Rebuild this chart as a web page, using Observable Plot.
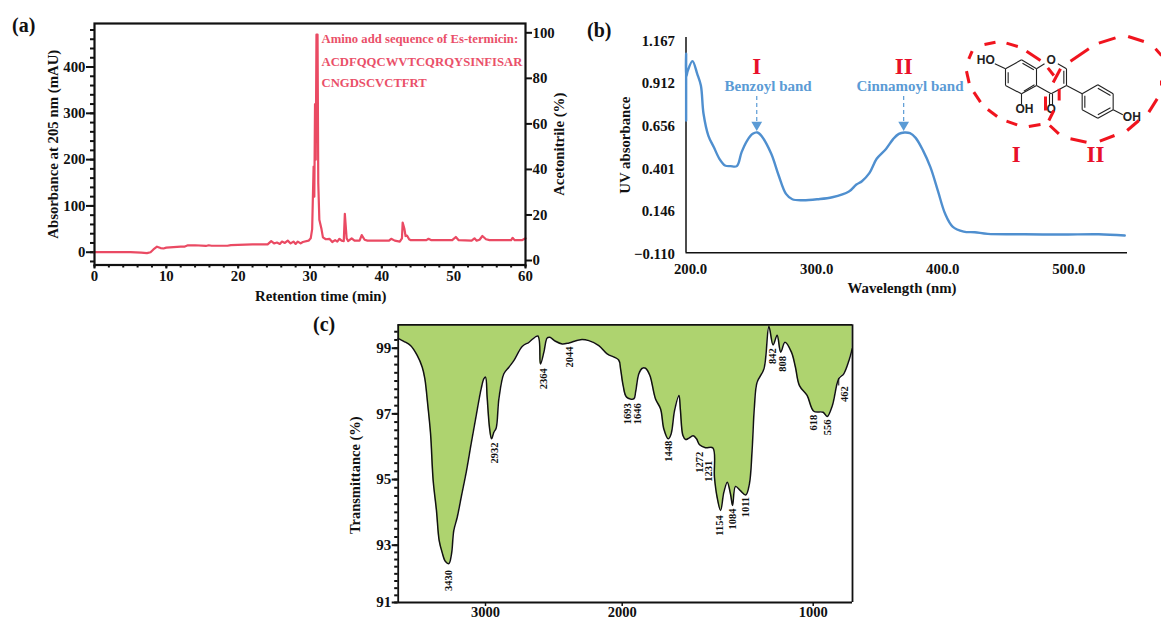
<!DOCTYPE html>
<html><head><meta charset="utf-8">
<script src="https://cdn.jsdelivr.net/npm/d3@7"></script>
<script src="https://cdn.jsdelivr.net/npm/@observablehq/plot@0.6"></script>
<style>
html,body{margin:0;padding:0;background:#fff}
#page{position:relative;width:1161px;height:619px;overflow:hidden;font-family:"Liberation Serif",serif;font-weight:bold}
.panel{position:absolute}
.panel svg{display:block;overflow:visible}
.tag{position:absolute;font-size:20px;color:#111;line-height:1}
</style></head><body>
<div id="page"></div>
<script>
// Panel (a): HPLC chromatogram [retention time (min), absorbance (mAU)]
const hplc=[[0,0],[5,0],[6.5,-1],[7.3,-2],[7.8,0],[8.2,6],[8.7,12],[9.2,9],[9.6,8],[10,10],[11,11],[12,12],[12.5,12],[13,15],[14,15],[15.5,13.5],[15.9,15],[16.3,14],[18.5,14],[19,15.5],[21,16.5],[22,17],[24.1,17],[24.6,24],[25,19],[25.4,21],[25.8,18],[26.1,23],[26.5,20],[26.9,25],[27.3,19],[27.7,23],[28,18],[28.3,23],[28.7,19],[29,22],[29.8,25],[30.1,30],[30.3,50],[30.5,185],[30.6,120],[30.7,320],[30.8,200],[30.9,470],[31.05,470],[31.15,150],[31.3,70],[31.6,50],[31.8,32],[32.2,28],[32.7,29],[33.1,22],[33.5,26],[33.8,23],[34.1,29],[34.4,25],[34.7,24],[34.85,83],[35.1,30],[35.3,24],[35.8,30],[36.2,25],[36.9,25],[37.2,37],[37.6,27],[38,25],[41,25],[41.3,29],[41.8,25],[42.5,23],[42.8,30],[42.9,64],[43.15,50],[43.3,35],[43.5,36],[43.8,28],[44,26],[46.2,26],[46.5,29],[46.9,26],[49.8,26],[50.3,33],[50.7,26],[52.5,25],[52.9,30],[53.2,25],[53.6,27],[54,35],[54.5,28],[55,26],[58,26],[58.2,31],[58.5,26],[59.5,26],[60,30]];
const hplcXTicks=[0,10,20,30,40,50,60];
const hplcYTicks=[0,100,200,300,400];
const acnTicks=[0,20,40,60,80,100];
const sequenceText=["Amino add sequence of Es-termicin:","ACDFQQCWVTCQRQYSINFISAR","CNGDSCVCTFRT"];
const sequenceY=[461,412,366];
// Panel (b): UV spectrum [wavelength (nm), absorbance]
const uv=[[196.5,0.691],[196.5,1.09],[196.5,0.95],[197.9,0.99],[201.5,1.046],[205.3,0.97],[208.2,0.9],[210.3,0.731],[214.1,0.601],[218.5,0.531],[222.9,0.462],[227.3,0.422],[231.7,0.418],[236.7,0.418],[240.5,0.502],[244.9,0.571],[249.3,0.611],[253.1,0.619],[256.6,0.595],[264,0.492],[269.9,0.362],[275.7,0.252],[280.7,0.22],[288.9,0.214],[300.7,0.22],[312.4,0.232],[325.6,0.266],[331.5,0.308],[335.9,0.328],[341.8,0.376],[347.6,0.462],[355,0.521],[360.8,0.581],[365.2,0.611],[369.6,0.619],[374,0.615],[378.5,0.587],[384.3,0.512],[390.2,0.412],[396.1,0.272],[401.9,0.133],[407.8,0.057],[416.6,0.027],[425.4,0.023],[435.7,0.013],[465,0.011],[494.4,0.009],[523.7,0.011],[544.3,0.003]];
const uvXTicks=[200,300,400,500];
const uvYTicks=[-0.11,0.146,0.401,0.656,0.912,1.167];
const bandNames=["Benzoyl band","Cinnamoyl band"];
const bandRoman=["I","II"];
const bandPeak=[252.5,369];
const bandTextX=[261.5,374];
// Panel (c): FTIR spectrum [wavenumber axis position, transmittance]
const ftir=[[3639,99.3],[3598,99.21],[3549,99.08],[3500,98.78],[3463,98.42],[3444,98.07],[3422,97.25],[3402,96.39],[3383,94.97],[3359,94.06],[3339,93.14],[3317,92.74],[3293,92.43],[3268,92.36],[3249,92.69],[3232,93.45],[3207,93.85],[3178,94.46],[3139,95.27],[3105,96.09],[3066,97],[3032,97.76],[3012,98.07],[3000,98.12],[2988,97.51],[2971,96.59],[2956,96.24],[2939,96.44],[2922,96.57],[2902,97.46],[2866,98.22],[2829,98.42],[2793,98.62],[2732,99.05],[2683,99.18],[2617,99.37],[2598,98.52],[2573,98.88],[2549,99.31],[2529,99.33],[2488,99.21],[2439,99.13],[2390,99.16],[2305,99.26],[2244,99.23],[2171,99.08],[2110,98.83],[2026,98.64],[2012,98.37],[1995,97.86],[1977,97.51],[1939,97.46],[1930,97.66],[1913,98.22],[1895,98.39],[1878,98.39],[1855,98.17],[1826,97.46],[1799,97.15],[1782,96.54],[1759,96.24],[1744,96.39],[1726,97.1],[1703,97.56],[1695,97.1],[1682,96.34],[1668,96.22],[1651,96.26],[1628,96.33],[1611,96.24],[1595,96.06],[1564,95.97],[1525,95.96],[1517,95.07],[1503,94.46],[1485,94.06],[1468,94.61],[1450,94.92],[1433,94.56],[1422,94.21],[1407,94.79],[1381,94.66],[1353,94.53],[1334,94.87],[1320,95.88],[1308,97.2],[1294,97.96],[1258,98.37],[1232,99.66],[1210,99.1],[1189,99.39],[1170,98.88],[1148,99.18],[1114,98.88],[1093,98.42],[1072,97.86],[1032,97.56],[997,97.08],[948,97.05],[927,96.92],[900,97.25],[866,98.07],[840,98.22],[813,98.62],[796,98.98]];
const ftirXTicks=[3000,2000,1000];
const ftirYTicks=[91,93,95,97,99];
const peakNames=["3430","2932","2364","2044","1693","1646","1448","1272","1231","1154","1084","1011","842","808","618","556","462"];
const peakX=[3268,2934,2573,2383,1974,1918,1757,1597,1548,1489,1424,1354,1215,1159,996,923,835];
const peakY=[91.77,95.81,98.07,98.73,97,97,95.86,95.53,95.25,93.6,93.8,94.16,98.76,98.52,96.73,96.59,97.6];
// Flavone structure drawing, in its own drawing units
const bonds=[[135,115,183,88],[183,88,228,115],[228,115,228,165],[228,165,183,190],[183,190,135,165],[135,165,135,115],[143,125,143,158],[186,98,220,118],[190,182,222,163],[228,115,252,100],[292,100,318,115],[318,115,318,165],[310,121,310,160],[318,165,272,190],[272,190,228,165],[267,190,267,226],[276,190,276,226],[103,100,135,115],[183,190,183,222],[318,165,365,190],[365,190,412,163],[412,163,458,190],[458,190,458,238],[458,238,412,263],[412,263,365,238],[365,238,365,190],[373,196,373,232],[412,173,450,195],[412,253,450,232],[458,238,487,253]];
const atoms=[["HO",76,88],["O",272,88],["OH",192,237],["O",272,237],["OH",514,260]];
const redDashes=[[72,42,105,35],[138,38,172,48],[198,62,240,90],[262,112,280,135],[300,115,278,156],[35,62,25,85],[18,122,26,158],[40,185,60,215],[82,237,110,258],[138,272,170,283],[205,288,240,282],[255,198,255,240],[296,175,296,210],[330,92,385,55],[415,38,465,22],[503,18,550,33],[585,55,603,75],[603,150,603,165],[590,205,565,245],[535,270,500,300],[462,315,418,332],[378,335,330,325],[295,310,268,285],[265,270,280,240]];
const structRoman=[["I",167,372],["II",405,372]];

const page=document.getElementById("page");
const ink="#111";
function place(svg,left,top){const d=document.createElement("div");d.className="panel";d.style.left=left+"px";d.style.top=top+"px";d.appendChild(svg);page.appendChild(d);}
function tag(t,l,tp){const s=document.createElement("div");s.className="tag";s.textContent=t;s.style.left=l+"px";s.style.top=tp+"px";page.appendChild(s);}
const rootStyle=fs=>({fontFamily:"'Liberation Serif',serif",fontWeight:"bold",fontSize:fs+"px",color:ink,background:"transparent"});
const seq=(a,b,s)=>d3.range(a,b+s/2,s);

// (a)
const acnToMau=p=>-17.9+4.918*p;
place(Plot.plot({
  width:580,height:310,marginLeft:94,marginRight:55,marginTop:23,marginBottom:45.5,
  style:rootStyle(14.8),
  x:{domain:[0,60]},y:{domain:[-27.6,494]},
  marks:[
    Plot.axisY(seq(-20,480,20),{anchor:"left",tickSize:4,tickFormat:()=>"",label:null,stroke:ink,strokeWidth:2}),
    Plot.axisY(hplcYTicks,{anchor:"left",tickSize:8,tickPadding:1,stroke:ink,strokeWidth:2,label:"Absorbance at 205 nm (mAU)",labelAnchor:"center",labelArrow:"none",labelOffset:47}),
    Plot.axisY(acnTicks.map(acnToMau),{anchor:"right",tickSize:6,tickPadding:1,stroke:ink,strokeWidth:2,tickFormat:(d,i)=>String(acnTicks[i]),label:"Acetonitrile (%)",labelAnchor:"center",labelArrow:"none",labelOffset:38}),
    Plot.axisX(seq(0,60,2),{anchor:"bottom",tickSize:3,tickFormat:()=>"",label:null,stroke:ink,strokeWidth:2}),
    Plot.axisX(hplcXTicks,{anchor:"bottom",tickSize:4,tickPadding:1,stroke:ink,strokeWidth:2,label:null}),
    Plot.text(["Retention time (min)"],{x:()=>31.5,y:()=>-27.6,dy:31,text:d=>d}),
    Plot.line(hplc,{x:d=>d[0],y:d=>d[1],stroke:"#ea4a63",strokeWidth:2.2}),
    Plot.text(sequenceText,{x:()=>31.6,y:(d,i)=>sequenceY[i],text:d=>d,textAnchor:"start",fill:"#ea5069",fontSize:12.7,fontWeight:"bold"}),
    Plot.frame({stroke:ink,strokeWidth:2.2})
  ]}),0,0);
tag("(a)",12,15);

// (b)
place(Plot.plot({
  width:581,height:300,marginLeft:105.5,marginRight:34,marginTop:27,marginBottom:57.7,
  style:rootStyle(14.8),
  x:{domain:[196.4,546.5]},y:{domain:[-0.10,1.187]},
  marks:[
    Plot.axisY(uvYTicks,{anchor:"left",tickSize:0,tickPadding:11,tickFormat:d3.format(".3f"),label:"UV absorbance",labelAnchor:"center",labelArrow:"none",labelOffset:67}),
    Plot.axisX(uvXTicks,{anchor:"bottom",tickSize:0,tickPadding:11,tickFormat:d3.format(".1f"),label:null}),
    Plot.text(["Wavelength (nm)"],{x:()=>367.7,y:()=>-0.10,dy:35.7,text:d=>d}),
    Plot.ruleX([196.4],{stroke:ink,strokeWidth:1.5}),
    Plot.ruleY([-0.10],{stroke:ink,strokeWidth:1.5}),
    Plot.line(uv,{x:d=>d[0],y:d=>d[1],stroke:"#4f8fcf",strokeWidth:2.4,curve:"catmull-rom"}),
    Plot.text(bandRoman,{x:(d,i)=>bandPeak[i],y:()=>1.01,text:d=>d,fill:"#e8102a",fontSize:23,fontWeight:"bold"}),
    Plot.text(bandNames,{x:(d,i)=>bandTextX[i],y:()=>0.895,text:d=>d,fill:"#5b9bd5",fontSize:15,fontWeight:"bold"}),
    Plot.ruleX(bandPeak,{y1:0.835,y2:0.68,stroke:"#5b9bd5",strokeWidth:1.2,strokeDasharray:"4 3"}),
    Plot.dot(bandPeak,{x:d=>d,y:()=>0.665,symbol:"triangle",rotate:180,r:4,fill:"#5b9bd5",stroke:"none"})
  ]}),580,10);
tag("(b)",587,20);

// molecule drawing
place(Plot.plot({
  width:201,height:150,margin:0,
  style:{fontFamily:"'Liberation Serif',serif",background:"transparent",overflow:"visible"},
  x:{domain:[0,603],axis:null},y:{domain:[450,0],axis:null},
  marks:[
    Plot.link(bonds,{x1:d=>d[0],y1:d=>d[1],x2:d=>d[2],y2:d=>d[3],stroke:"#222",strokeWidth:1.1}),
    Plot.text(atoms,{x:d=>d[1],y:d=>d[2],text:d=>d[0],fill:"#222",fontSize:12,fontFamily:"'Liberation Sans',sans-serif"}),
    Plot.link(redDashes,{x1:d=>d[0],y1:d=>d[1],x2:d=>d[2],y2:d=>d[3],stroke:"#f0141e",strokeWidth:3}),
    Plot.text(structRoman,{x:d=>d[1],y:d=>d[2],text:d=>d[0],fill:"#e8102a",fontSize:23,fontWeight:"bold"})
  ]}),960,30);

// (c)
const T=310,yTop=99.71;
place(Plot.plot({
  width:1161,height:309,marginLeft:0,marginRight:0,marginTop:0,marginBottom:0,
  style:rootStyle(15),
  x:{type:"linear",domain:[3639,3000,2000,1000,794],range:[397.7,485,621.7,812.7,852]},
  y:{type:"linear",domain:[91,93,99,yTop],range:[602-T,544.7-T,347.7-T,324.3-T]},
  marks:[
    Plot.areaY(ftir,{x:d=>d[0],y1:()=>yTop,y2:d=>d[1],fill:"#aed36f",curve:"catmull-rom"}),
    Plot.line(ftir,{x:d=>d[0],y:d=>d[1],stroke:ink,strokeWidth:1.5,curve:"catmull-rom"}),
    Plot.axisY(seq(91,99.6,0.25),{anchor:"left",tickSize:3.5,tickFormat:()=>"",label:null,stroke:ink,strokeWidth:2,x:3639}),
    Plot.axisY(ftirYTicks,{anchor:"left",x:3639,tickSize:6,tickPadding:1,stroke:ink,strokeWidth:2,label:null}),
    Plot.axisX(ftirXTicks,{anchor:"bottom",y:91,tickSize:4,tickPadding:0,stroke:ink,strokeWidth:1.5,label:null,tickFormat:d=>String(d),fontSize:14.5}),
    Plot.text(["Transmittance (%)"],{x:()=>3639,y:()=>95.13,dx:-43,rotate:-90,text:d=>d,fontSize:14.5}),
    Plot.ruleX([3639,794],{y1:91,y2:yTop,stroke:ink,strokeWidth:1.8}),
    Plot.ruleY([91,yTop],{x1:3639,x2:794,stroke:ink,strokeWidth:1.8}),
    Plot.ruleX([866],{y1:98.07,y2:97.85,stroke:ink,strokeWidth:1}),
    Plot.text(peakNames,{x:(d,i)=>peakX[i],y:(d,i)=>peakY[i],text:d=>d,rotate:-90,fontSize:10.5,fontWeight:"bold",fill:ink})
  ]}),0,T);
tag("(c)",313,314);
</script>
</body></html>
